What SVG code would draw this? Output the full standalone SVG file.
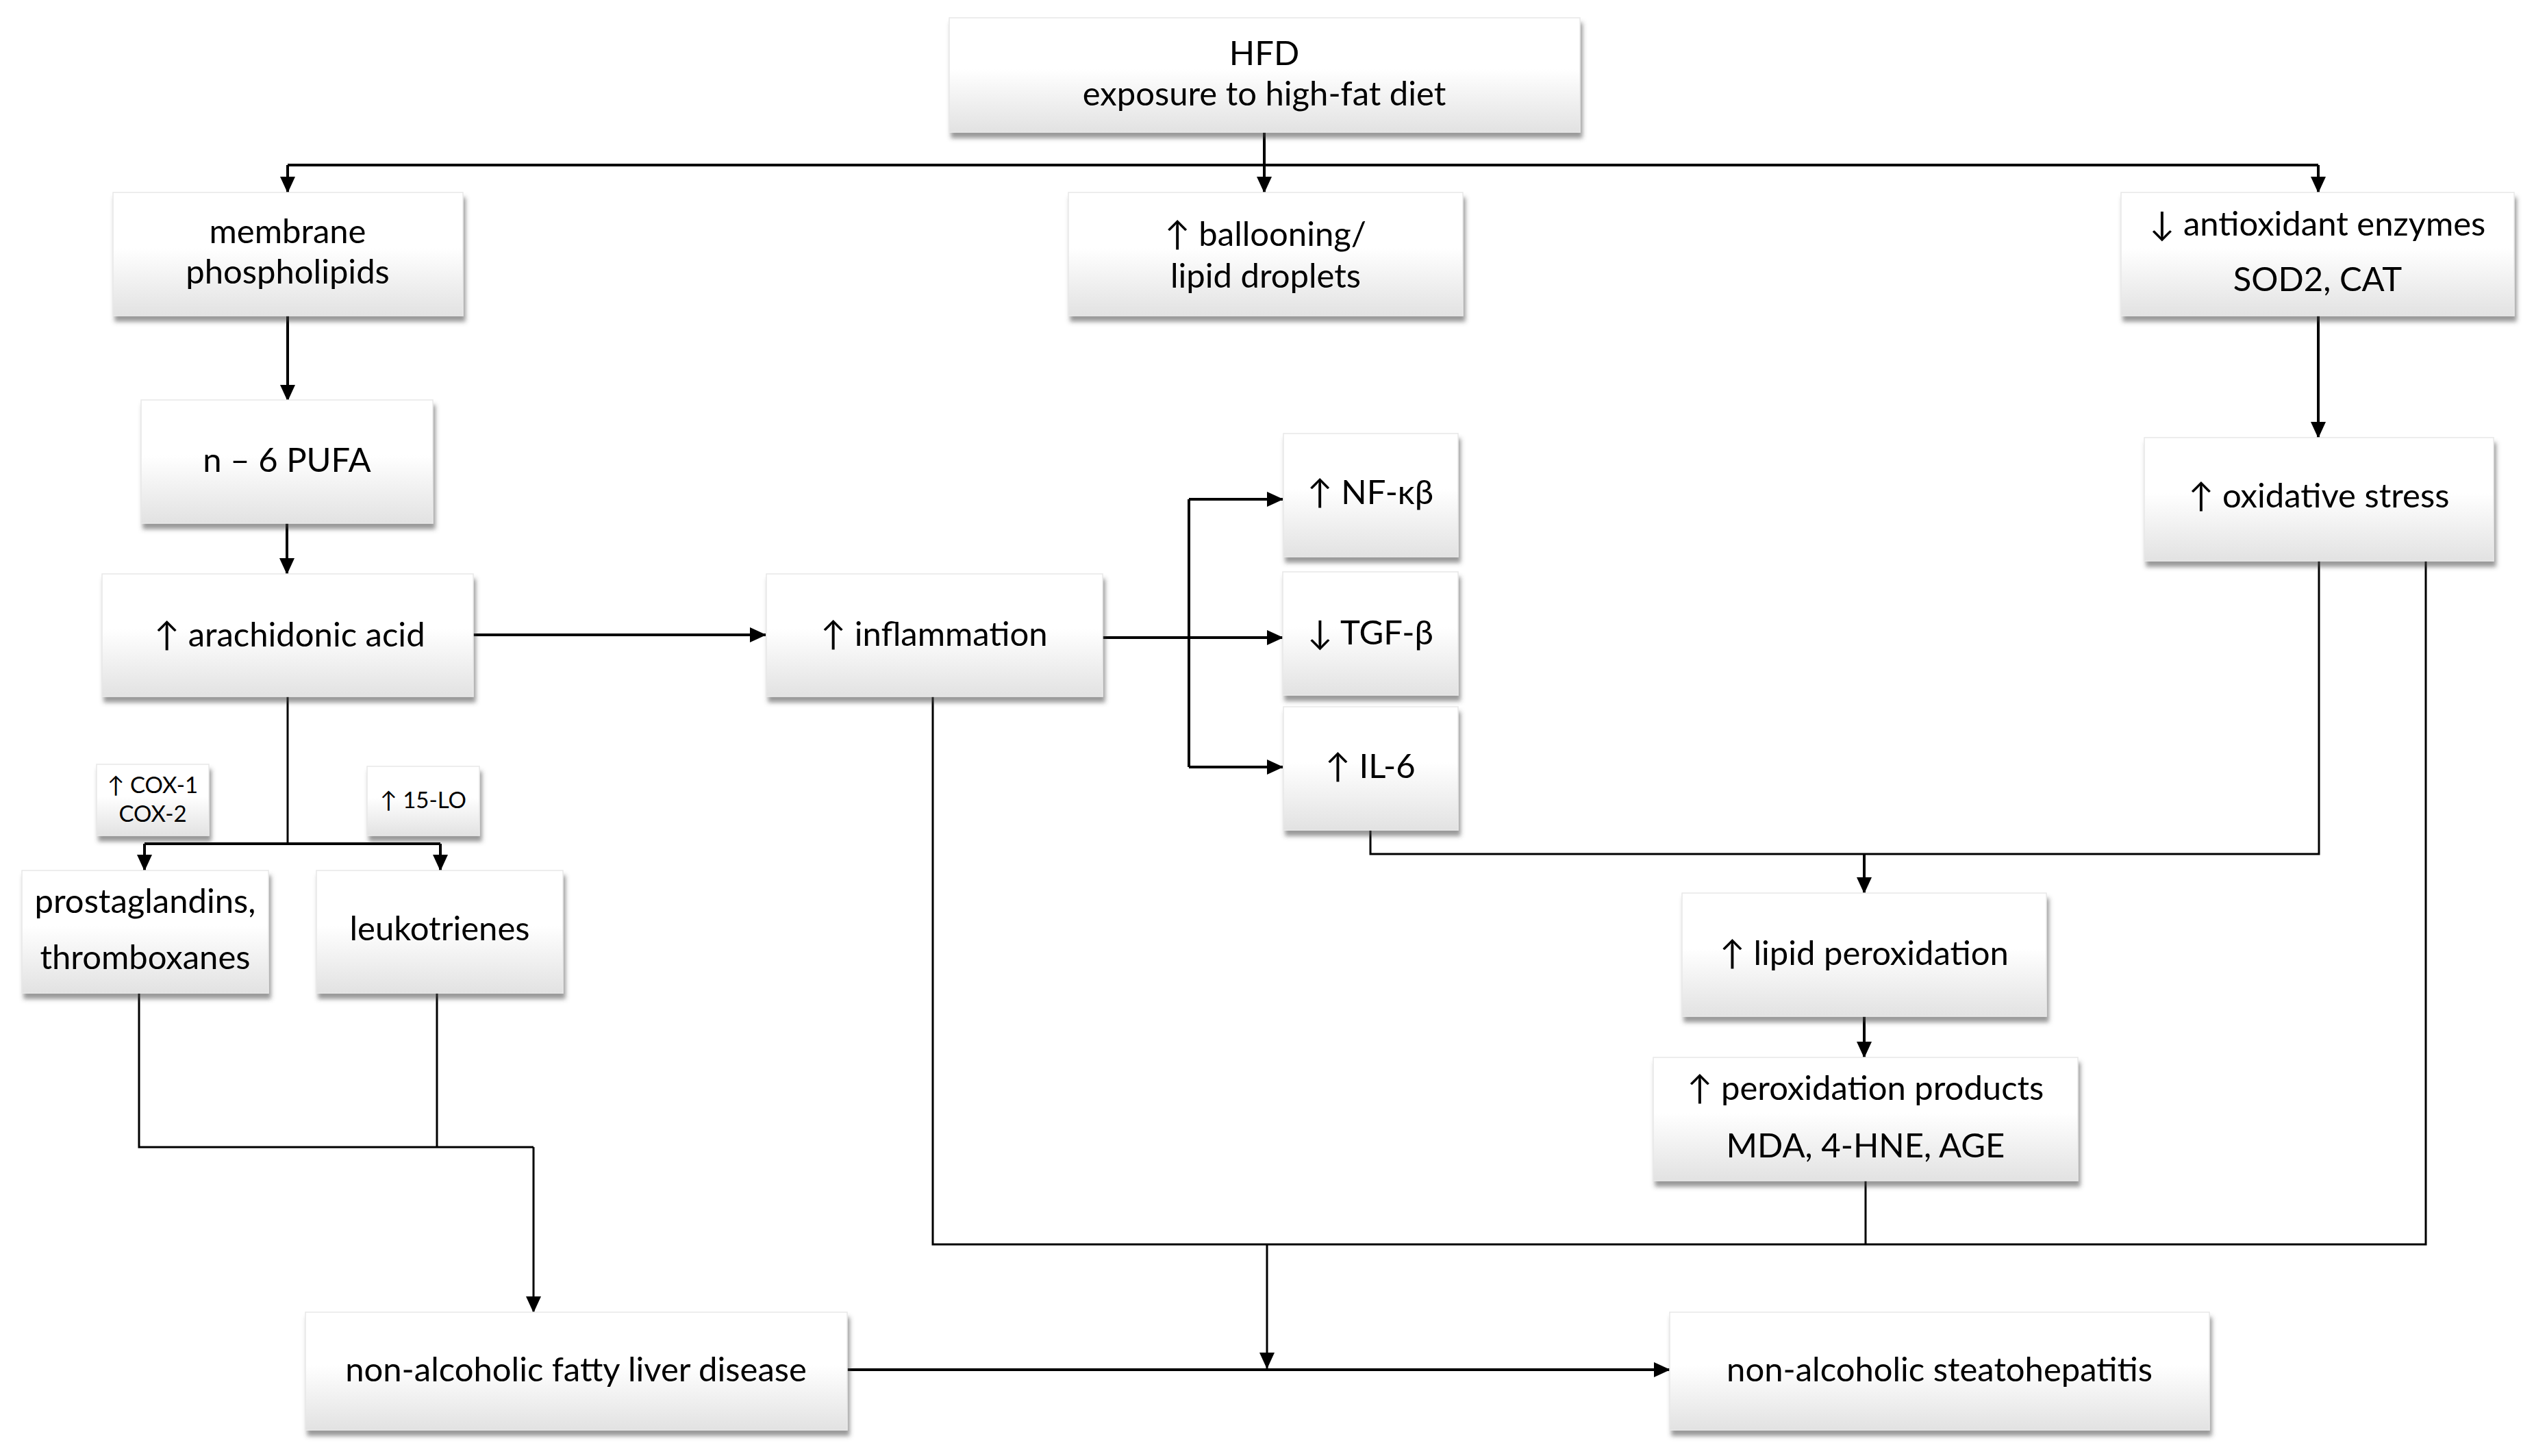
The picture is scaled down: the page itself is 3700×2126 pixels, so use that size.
<svg xmlns="http://www.w3.org/2000/svg" width="3700" height="2126" viewBox="0 0 3700 2126">
<defs>
<linearGradient id="g" x1="0" y1="0" x2="0" y2="1">
<stop offset="0" stop-color="#ffffff"/>
<stop offset="0.45" stop-color="#ffffff"/>
<stop offset="1" stop-color="#e2e2e2"/>
</linearGradient>
<filter id="sh" x="-5%" y="-5%" width="115%" height="130%">
<feDropShadow dx="3" dy="8" stdDeviation="3" flood-color="#444" flood-opacity="0.55"/>
</filter>
<marker id="ah" markerUnits="userSpaceOnUse" markerWidth="24" markerHeight="24" viewBox="0 0 24 24" refX="23" refY="12" orient="auto">
<path d="M0,1 L24,12 L0,23 Z" fill="#000"/>
</marker>
</defs>
<style>
.box{fill:url(#g);stroke:#e8e8e8;stroke-width:1.5;filter:url(#sh)}
.t{font-family:Lato,"DejaVu Sans",sans-serif;font-size:49px;fill:#000;text-anchor:middle}
.s{font-size:33px}
.c{fill:none;stroke:#000;stroke-width:4}
.th{stroke-width:3}
.a{marker-end:url(#ah)}
</style>
<rect width="3700" height="2126" fill="#fff"/>

<g id="connectors">
<path class="c" d="M420,241 H3385"/>
<path class="c a" d="M1846,193 V281"/>
<path class="c a" d="M420,241 V281"/>
<path class="c a" d="M3385,241 V281"/>
<path class="c a" d="M420,461 V585"/>
<path class="c a" d="M419,763 V838"/>
<path class="c a" d="M691,927 H1118"/>
<path class="c a" d="M1610,931 H1873"/>
<path class="c" d="M1736,729 V1120"/>
<path class="c a" d="M1736,729 H1873"/>
<path class="c a" d="M1736,1120 H1873"/>
<path class="c th" d="M420,1017 V1232"/>
<path class="c" d="M211,1232 H643"/>
<path class="c a" d="M211,1232 V1271"/>
<path class="c a" d="M643,1232 V1271"/>
<path class="c th" d="M203,1450 V1675 H779"/>
<path class="c th a" d="M779,1675 V1916"/>
<path class="c th" d="M638,1450 V1675"/>
<path class="c a" d="M1237,2000 H2438"/>
<path class="c th" d="M1362,1017 V1817 H3542 V819"/>
<path class="c th" d="M2724,1724 V1817"/>
<path class="c th a" d="M1850,1817 V1998"/>
<path class="c th" d="M2001,1212 V1247 H3386 V819"/>
<path class="c a" d="M2722,1247 V1304"/>
<path class="c a" d="M2722,1484 V1544"/>
<path class="c a" d="M3385,461 V639"/>
</g>

<g id="hfd"><rect class="box" x="1386" y="26" width="921" height="167"/>
<text class="t" x="1846" y="95">HFD</text><text class="t" x="1846" y="154">exposure to high-fat diet</text></g>

<g id="membrane"><rect class="box" x="165" y="281" width="511" height="180"/>
<text class="t" x="420" y="355">membrane</text><text class="t" x="420" y="414">phospholipids</text></g>

<g id="ballooning"><rect class="box" x="1560" y="281" width="576" height="180"/>
<text class="t" x="1848" y="359">↑ ballooning/</text><text class="t" x="1848" y="420">lipid droplets</text></g>

<g id="antioxidant"><rect class="box" x="3097" y="281" width="574" height="180"/>
<text class="t" x="3384" y="344">↓ antioxidant enzymes</text><text class="t" x="3384" y="425">SOD2, CAT</text></g>

<g id="pufa"><rect class="box" x="206" y="584" width="426" height="180"/>
<text class="t" x="419" y="689">n – 6 PUFA</text></g>

<g id="arachidonic"><rect class="box" x="149" y="838" width="542" height="179"/>
<text class="t" x="423" y="944">↑ arachidonic acid</text></g>

<g id="inflammation"><rect class="box" x="1119" y="838" width="491" height="179"/>
<text class="t" x="1364" y="943">↑ inflammation</text></g>

<g id="nfkb"><rect class="box" x="1874" y="633" width="255" height="180"/>
<text class="t" x="2001" y="736">↑ NF-κβ</text></g>

<g id="tgfb"><rect class="box" x="1873" y="835" width="256" height="180"/>
<text class="t" x="2001" y="941">↓ TGF-β</text></g>

<g id="il6"><rect class="box" x="1874" y="1032" width="255" height="180"/>
<text class="t" x="2001" y="1136">↑ IL-6</text></g>

<g id="oxidative"><rect class="box" x="3131" y="639" width="510" height="180"/>
<text class="t" x="3386" y="741">↑ oxidative stress</text></g>

<g id="cox"><rect class="box" x="141" y="1116" width="164" height="104"/>
<text class="t s" x="223" y="1158">↑ COX-1</text><text class="t s" x="223" y="1200">COX-2</text></g>

<g id="lo15"><rect class="box" x="536" y="1119" width="164" height="101"/>
<text class="t s" x="618" y="1180">↑ 15-LO</text></g>

<g id="prostaglandins"><rect class="box" x="32" y="1271" width="360" height="179"/>
<text class="t" x="212" y="1333">prostaglandins,</text><text class="t" x="212" y="1415">thromboxanes</text></g>

<g id="leukotrienes"><rect class="box" x="462" y="1271" width="360" height="179"/>
<text class="t" x="642" y="1373">leukotrienes</text></g>

<g id="lipidperox"><rect class="box" x="2456" y="1304" width="532" height="180"/>
<text class="t" x="2722" y="1409">↑ lipid peroxidation</text></g>

<g id="peroxproducts"><rect class="box" x="2414" y="1544" width="620" height="180"/>
<text class="t" x="2724" y="1606">↑ peroxidation products</text><text class="t" x="2724" y="1690">MDA, 4-HNE, AGE</text></g>

<g id="nafld"><rect class="box" x="446" y="1916" width="791" height="172"/>
<text class="t" x="841" y="2017">non-alcoholic fatty liver disease</text></g>

<g id="nash"><rect class="box" x="2438" y="1916" width="788" height="172"/>
<text class="t" x="2832" y="2017">non-alcoholic steatohepatitis</text></g>
</svg>
